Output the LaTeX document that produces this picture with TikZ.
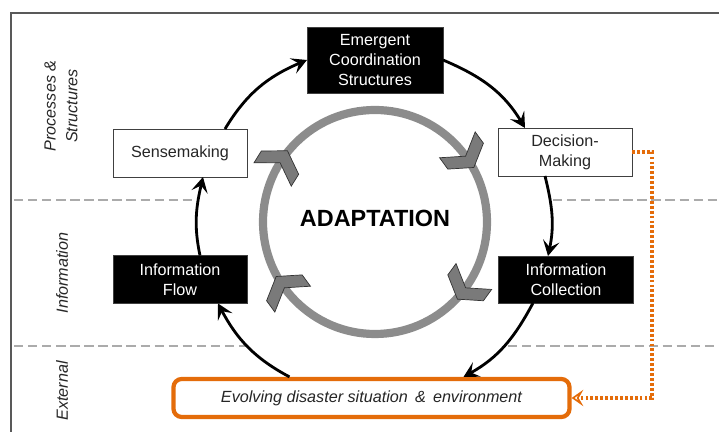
\documentclass[tikz,border=0pt]{standalone}
\usepackage{fontspec}
\setmainfont{Liberation Sans}
\usetikzlibrary{arrows.meta}
\definecolor{evorange}{HTML}{E46C0A}
\definecolor{ringgray}{HTML}{8C8C8C}
\definecolor{chevgray}{HTML}{7A7A7A}
\definecolor{dashgray}{HTML}{ABABAB}
\definecolor{framegray}{HTML}{595959}
\begin{document}
\begin{tikzpicture}[x=0.03cm,y=0.03cm,
  boxfont/.style={font=\fontsize{13.8}{17}\selectfont},
  box/.style={boxfont, draw=black!75, line width=0.8pt, inner sep=0pt, outer sep=0pt, align=center},
  whitebox/.style={box, fill=white, text=black!85},
  blackbox/.style={box, fill=black, text=white},
  flow/.style={line width=2.4pt, -{Stealth[length=13pt,width=14pt,inset=5.5pt]}},
  band/.style={font=\itshape\fontsize{13.8}{18.7}\selectfont, rotate=90, align=center, text=black!85},
  divider/.style={dashgray, line width=2.4pt, dash pattern=on 8pt off 4pt},
  ring/.style={ringgray, line width=7pt},
  chev/.style={fill=chevgray, draw=black!80, line width=0.6pt, line join=miter},
  feedback/.style={evorange, line width=2.8pt, dash pattern=on 2.4pt off 1.8pt,
    -{Stealth[open, fill=white, length=10pt, width=14pt, inset=4pt, line width=1.4pt]}},
  framestyle/.style={framegray, line width=1.2pt}
]
\useasboundingbox (0,0) rectangle (719,432);

% outer frame
\draw[framestyle] (11,0) -- (11,419) -- (719,419);

% band dividers
\draw[divider] (14,232) -- (193,232);
\draw[divider] (553,232) -- (719,232);
\draw[divider] (14,86) -- (247,86);
\draw[divider] (508,86) -- (719,86);

% band labels
\node[band] (lproc) at (61,326) {Processes \&\\Structures};
\node[band] (linfo) at (62,159) {Information};
\node[band] (lext) at (62,41) {External};

% adaptation ring with clockwise chevrons
\draw[ring] (375,210) circle[radius=112];
\foreach \a in {36,-36,-144,148} {
  \draw[chev, shift={({375+112*cos(\a)},{210+112*sin(\a)})}, rotate=\a-90]
    (-14,22) -- (0,22) -- (14,0) -- (0,-22) -- (-14,-22) -- (0,0) -- cycle;
}
\node[font=\bfseries\fontsize{20}{24}\selectfont] (adapt) at (375,214) {ADAPTATION};

% process nodes
\node[blackbox, minimum width=4.08cm, minimum height=1.98cm] (emerg) at (375,372) {Emergent\\Coordination\\Structures};
\node[whitebox, minimum width=4.02cm, minimum height=1.44cm] (sense) at (180,279) {Sensemaking};
\node[whitebox, minimum width=4.02cm, minimum height=1.44cm] (decis) at (565,280) {Decision-\\Making};
\node[blackbox, minimum width=4.02cm, minimum height=1.44cm] (iflow) at (180,152.5) {Information\\Flow};
\node[blackbox, minimum width=4.05cm, minimum height=1.41cm] (icoll) at (566,152.5) {Information\\Collection};
\node[boxfont, draw=evorange, line width=3.6pt, rounded corners=7pt, fill=white,
      minimum width=11.88cm, minimum height=1.14cm, inner sep=0pt, text=black!85]
      (evolv) at (371.5,34) {\itshape Evolving disaster situation \,\&\, environment};

% cycle connectors
\draw[flow] ([xshift=1.35cm]sense.north) to[out=59,in=203] (emerg.west);
\draw[flow] (emerg.east) to[out=-23,in=121] ([xshift=-1.2cm]decis.north);
\draw[flow] ([xshift=-0.6cm]decis.south) to[out=-76,in=78] ([xshift=-0.54cm]icoll.north);
\draw[flow] ([xshift=-0.99cm]icoll.south) to[out=-118,in=29] ([xshift=2.76cm]evolv.north);
\draw[flow] ([xshift=-2.46cm]evolv.north) to[out=152,in=298] ([xshift=1.14cm]iflow.south);
\draw[flow] ([xshift=0.6cm]iflow.north) to[out=102,in=257] ([xshift=0.69cm]sense.south);

% feedback from decision making to the environment
\draw[feedback] (decis.east) -- ++(20,0) |- (evolv.east);
\end{tikzpicture}
\end{document}
